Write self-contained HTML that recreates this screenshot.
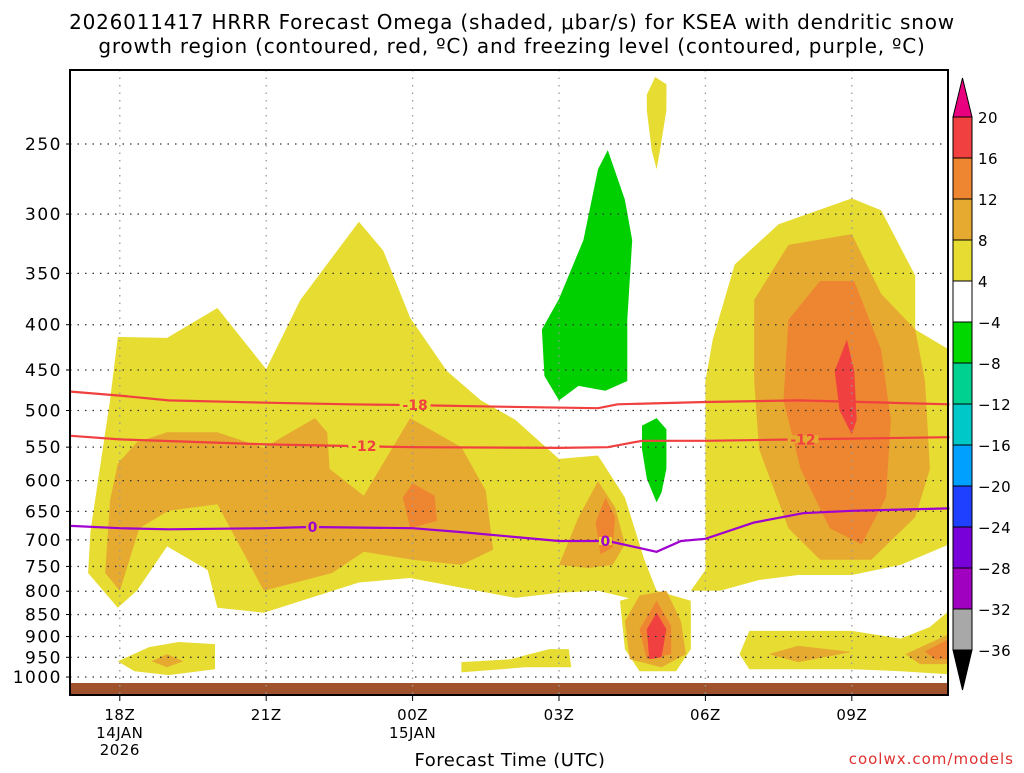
<!DOCTYPE html>
<html><head><meta charset="utf-8"><style>
body{margin:0;background:#fff;}
svg text{font-family:"DejaVu Sans","Liberation Sans",sans-serif;}
</style></head><body>
<svg id="chart" width="1024" height="768" viewBox="0 0 1024 768" xmlns="http://www.w3.org/2000/svg">
<rect width="1024" height="768" fill="#fff"/>
<text x="512" y="29" font-size="20" text-anchor="middle" letter-spacing="0.8">2026011417 HRRR Forecast Omega (shaded, μbar/s) for KSEA with dendritic snow</text>
<text x="512" y="53" font-size="20" text-anchor="middle" letter-spacing="0.8">growth region (contoured, red, ºC) and freezing level (contoured, purple, ºC)</text>
<g id="fills"></g>
<rect x="70" y="683" width="878" height="12" fill="#a0522d"/>
<g id="grid"></g>
<g id="lines"></g>
<rect x="70" y="70" width="878" height="625" fill="none" stroke="#000" stroke-width="2"/>
<g id="axes"></g>
<g id="cbar"></g>
<text x="510" y="766" font-size="18" text-anchor="middle" letter-spacing="0.5">Forecast Time (UTC)</text>
<text x="1014" y="764" font-size="15" fill="#e03030" text-anchor="end" letter-spacing="1">coolwx.com/models</text>
</svg>
<script>
// ---- data ----
const pLevels=[250,300,350,400,450,500,550,600,650,700,750,800,850,900,950,1000];
const xTickHours=[1,4,7,10,13,16];
const xTickLabels=["18Z","21Z","00Z","03Z","06Z","09Z"];
const cbarLevels=["20","16","12","8","4","−4","−8","−12","−16","−20","−24","−28","−32","−36"];
const cbarColors=["#f04040","#ee8530","#e6aa30","#e6dc32","#ffffff","#00d800","#00d090","#00c8c8","#00a0ff","#2040ff","#7800d8","#a000c0","#a8a8a8"];
const C8="#e6dc32",C12="#e6aa30",C16="#ee8530",C20="#f04040",CG="#00d000";
// contour lines: hours & pressure
const t18Hours=[0,1,2,4,5.7,7,8.8,10.8,11.2,13,14.9,18];
const t18Press=[476,481,487,490,492,493,495,497,492,489,487,492];
const t12Hours=[0,1,4,7,10,11,11.7,13,14.9,18];
const t12Press=[534,539,546,550,551,550,541,541,539,536];
const t0Hours=[0,1,2,4,4.9,7,8,10,11,12,12.5,13,14,15,16,18];
const t0Press=[675,679,681,679,677,679,686,702,702,722,702,698,669,653,649,645];
// shaded omega regions: [hour, hPa]
const yellowLeft=[[0.35,763],[0.4,684],[0.8,487],[0.96,413],[1.97,414],[3,383],[4,449],[4.7,375],[5.9,306],[6.4,330],[6.95,393],[7.7,451],[8.4,487],[9.1,512],[10,567],[10.8,562],[11.35,627],[11.75,737],[12,799],[11.65,820],[10.8,799],[10,803],[9.1,814],[6.95,773],[5.9,782],[3.95,846],[3,835],[2.8,757],[1.97,712],[1.35,799],[0.96,835]];
const yellowColumn=[[11.25,820],[11.35,930],[11.65,985],[12.4,985],[12.7,930],[12.7,820],[12,799]];
const yellowRight=[[12.7,799],[13,757],[13,463],[13.15,416],[13.6,342],[14.5,308],[16,288],[16.6,297],[17.3,352],[17.3,405],[18,427],[18,708],[17,747],[16,767],[14.9,767],[14.1,777],[13.3,799]];
const yellowTop=[[11.8,220],[11.97,210],[12.2,214],[12.2,229],[12.07,254],[12,267],[11.9,254],[11.8,229]];
const yellowLow1=[[0.96,960],[1.6,925],[2.2,913],[2.95,918],[2.95,980],[2,995],[1.3,985]];
const yellowLow2=[[8,962],[9,955],[9.8,930],[10.2,930],[10.25,975],[9.3,975],[8,988]];
const yellowLow3=[[13.7,942],[13.9,887],[16,887],[17,905],[17.6,878],[18,841],[18,993],[17,985],[16,980],[13.9,980]];
const greenUpper=[[9.7,457],[9.65,405],[10,374],[10.5,321],[10.8,267],[11,254],[11.35,289],[11.5,321],[11.4,395],[11.4,463],[10.95,475],[10.4,469],[10,487]];
const greenLower=[[11.7,520],[12,510],[12.2,525],[12.2,582],[12.1,619],[12,635],[11.8,597],[11.7,553]];
const orangeLeft=[[0.96,574],[1.35,543],[1.97,529],[3,529],[3.95,551],[4.5,529],[5,510],[5.25,529],[5.3,582],[6,624],[6.95,510],[8,550],[8.5,616],[8.65,718],[8,747],[7,737],[6,722],[5.35,763],[3.95,799],[3,638],[2,649],[1.4,679],[1,799],[0.7,763],[0.8,632]];
const orangeLeftCore=[[6.8,627],[7,604],[7.45,624],[7.5,666],[6.95,679]];
const orange03=[[10,747],[10.4,660],[10.8,601],[11.15,643],[11.35,708],[11.1,747],[10.6,753]];
const orange03Core=[[10.75,669],[10.95,627],[11.15,660],[11.1,714],[10.85,727]];
const orange05=[[11.35,865],[11.65,809],[12.2,799],[12.5,865],[12.6,942],[12.1,975],[11.45,955]];
const orange05Core=[[11.65,883],[12,820],[12.3,876],[12.3,942],[11.8,955]];
const red05=[[11.8,883],[12,846],[12.2,883],[12.1,950],[11.85,955]];
const orange09=[[14,375],[14.7,325],[16,316],[16.6,369],[17.3,405],[17.5,463],[17.6,582],[17.3,660],[16.4,737],[15.35,737],[14.7,679],[14.1,553],[14,463]];
const orange09Core=[[14.7,395],[15.35,357],[16.05,357],[16.6,427],[16.8,512],[16.7,627],[16.2,708],[15.55,679],[14.95,582],[14.6,487]];
const red09=[[15.65,451],[15.9,416],[16.05,451],[16.1,512],[16,532],[15.75,500]];
const orangeLow1=[[1.65,960],[1.97,942],[2.3,960],[1.97,975]];
const orangeLow3=[[14.3,942],[14.9,922],[16,937],[14.9,962]];
const orangeLow4=[[17.1,942],[18,894],[18,967],[17.4,967]];
const orangeLow4Core=[[17.5,935],[18,905],[18,955],[17.7,955]];

// ---- scales ----
const X0=71,PXH=48.8;
function xs(h){return X0+h*PXH;}
function ys(p){return 144+384.5*Math.log(p/250);}
const NS="http://www.w3.org/2000/svg";
function mk(tag,attrs,parent){const e=document.createElementNS(NS,tag);for(const k in attrs)e.setAttribute(k,attrs[k]);parent.appendChild(e);return e;}

const fills=document.getElementById('fills');
const clip=mk('clipPath',{id:'pc'},document.getElementById('chart'));
mk('rect',{x:70,y:70,width:878,height:625},clip);
fills.setAttribute('clip-path','url(#pc)');
function poly(pts,color,name){
  const e=mk('polygon',{points:pts.map(q=>xs(q[0]).toFixed(1)+','+ys(q[1]).toFixed(1)).join(' '),fill:color},fills);
  
  
}
poly(yellowLeft,C8,'omega-4-8-left');
poly(yellowColumn,C8,'omega-4-8-column');
poly(yellowRight,C8,'omega-4-8-right');
poly(yellowTop,C8,'omega-4-8-top');
poly(yellowLow1,C8,'omega-4-8-low1');
poly(yellowLow2,C8,'omega-4-8-low2');
poly(yellowLow3,C8,'omega-4-8-low3');
poly(greenUpper,CG,'omega-neg-upper');
poly(greenLower,CG,'omega-neg-lower');
poly(orangeLeft,C12,'omega-8-12-left');
poly(orangeLeftCore,C16,'omega-12-16-left');
poly(orange03,C12,'omega-8-12-03z');
poly(orange03Core,C16,'omega-12-16-03z');
poly(orange05,C12,'omega-8-12-05z');
poly(orange05Core,C16,'omega-12-16-05z');
poly(red05,C20,'omega-16-20-05z');
poly(orange09,C12,'omega-8-12-09z');
poly(orange09Core,C16,'omega-12-16-09z');
poly(red09,C20,'omega-16-20-09z');
poly(orangeLow1,C12,'omega-8-12-low1');
poly(orangeLow3,C12,'omega-8-12-low3');
poly(orangeLow4,C12,'omega-8-12-low4');
poly(orangeLow4Core,C16,'omega-12-16-low4');

// grid
const grid=document.getElementById('grid');
pLevels.forEach(p=>{const l=mk('line',{x1:70,x2:948,y1:ys(p),y2:ys(p),stroke:'#333','stroke-width':1.3,'stroke-dasharray':'1.5 6'},grid);

});
xTickHours.forEach(h=>{const l=mk('line',{x1:xs(h),x2:xs(h),y1:70,y2:695,stroke:'#999','stroke-width':1.3,'stroke-dasharray':'1.5 6'},grid);

});

// contour lines
const lines=document.getElementById('lines');
function cline(hs,ps,color,name){
  const d=hs.map((h,i)=>(i?'L':'M')+xs(h).toFixed(1)+','+ys(ps[i]).toFixed(1)).join(' ');
  const e=mk('path',{d:d,fill:'none',stroke:color,'stroke-width':2.2},lines);
  
  
}
cline(t18Hours,t18Press,'#f04040','isotherm-minus18');
cline(t12Hours,t12Press,'#f04040','isotherm-minus12');
cline(t0Hours,t0Press,'#a000d0','freezing-level');
function clabel(h,hs,ps,txt,color,name,bg){
  let i=0;while(i<hs.length-2&&hs[i+1]<h)i++;
  const f=(h-hs[i])/(hs[i+1]-hs[i]);const p=ps[i]+f*(ps[i+1]-ps[i]);
  const x=xs(h),y=ys(p);
  const w=txt.length*9+4;
  mk('rect',{x:x-w/2,y:y-4,width:w,height:8,fill:bg},lines);
  const t=mk('text',{x:x,y:y+5,'font-size':14,'font-weight':'bold',fill:color,'text-anchor':'middle'},lines);
  t.textContent=txt;
  
  
}
clabel(7.05,t18Hours,t18Press,'-18','#f04040','label-minus18','#e6dc32');
clabel(6,t12Hours,t12Press,'-12','#f04040','label-minus12-a','#e6dc32');
clabel(15,t12Hours,t12Press,'-12','#f04040','label-minus12-b','#e6aa30');
clabel(4.95,t0Hours,t0Press,'0','#a000d0','label-zero-a','#e6aa30');
clabel(10.95,t0Hours,t0Press,'0','#a000d0','label-zero-b','#e6dc32');

// axes
const axes=document.getElementById('axes');
pLevels.forEach(p=>{
  const t=mk('text',{x:62,y:ys(p)+6,'font-size':17,'text-anchor':'end','letter-spacing':1.5},axes);
  t.textContent=p;
  
  
  mk('line',{x1:66,x2:70,y1:ys(p),y2:ys(p),stroke:'#000'},axes);
});
xTickHours.forEach((h,i)=>{
  mk('line',{x1:xs(h),x2:xs(h),y1:695,y2:701,stroke:'#000'},axes);
  const t=mk('text',{x:xs(h),y:720,'font-size':15,'text-anchor':'middle','letter-spacing':0.5},axes);
  t.textContent=xTickLabels[i];
  
  
});
[["14JAN",1,738],["2026",1,755],["15JAN",7,738]].forEach(a=>{
  const t=mk('text',{x:xs(a[1]),y:a[2],'font-size':15,'text-anchor':'middle','letter-spacing':0.5},axes);
  t.textContent=a[0];
  
  
});

// colorbar
const cb=document.getElementById('cbar');
const CX=953,CW=19,CT=117,CH=41;
mk('polygon',{points:`${CX},${CT} ${CX+CW/2},78 ${CX+CW},${CT}`,fill:'#e8007e',stroke:'#000'},cb);
cbarColors.forEach((c,i)=>{const r=mk('rect',{x:CX,y:CT+i*CH,width:CW,height:CH,fill:c,stroke:'#000','stroke-width':1},cb);

});
const cbB=CT+cbarColors.length*CH;
mk('polygon',{points:`${CX},${cbB} ${CX+CW/2},690 ${CX+CW},${cbB}`,fill:'#000',stroke:'#000'},cb);
cbarLevels.forEach((s,i)=>{
  const t=mk('text',{x:978,y:CT+i*CH+6,'font-size':15,'letter-spacing':0.5},cb);
  t.textContent=s;
  
  
});
</script>
</body></html>
